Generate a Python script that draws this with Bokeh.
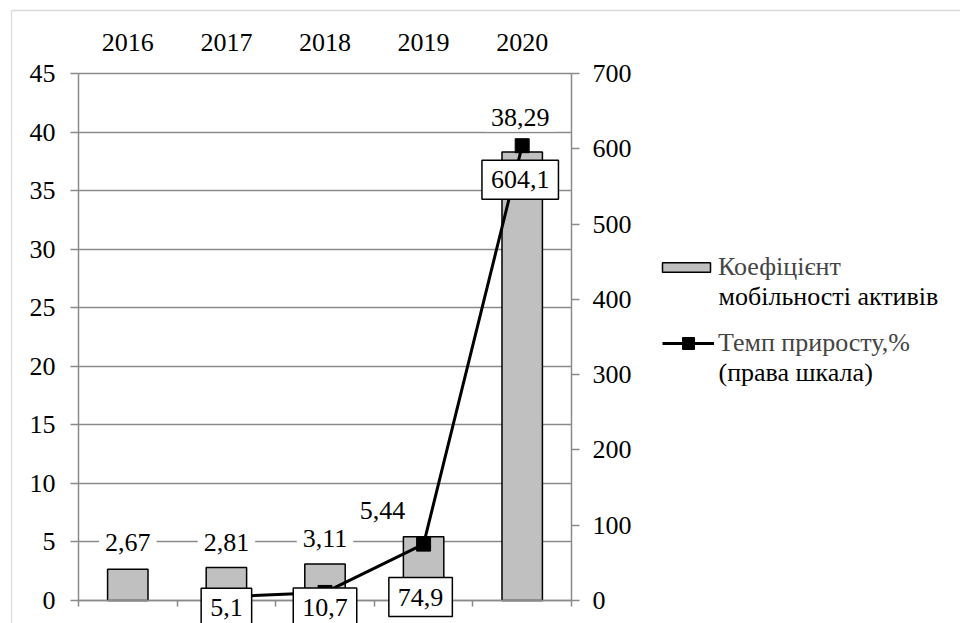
from bokeh.plotting import figure
from bokeh.models import (Range1d, LinearAxis, FixedTicker, Grid, Label, Legend,
                          LegendItem, BoxAnnotation, ColumnDataSource)
from bokeh.embed import file_html
from bokeh.resources import INLINE

# ---- data -------------------------------------------------------------
years = ["2016", "2017", "2018", "2019", "2020"]
mobility = [2.67, 2.81, 3.11, 5.44, 38.29]            # коефіцієнт мобільності активів
growth = [float("nan"), 5.1, 10.7, 74.9, 604.1]      # темп приросту, % (права шкала)

left_ticks = list(range(0, 50, 5))
right_ticks = list(range(0, 800, 100))

legend_bar = ["Коефіцієнт", "мобільності активів"]
legend_line = ["Темп приросту,%", "(права шкала)"]

# ---- label nudges (screen px: x to the right, y upwards) ---------------
mob_dx = [0, 0, 0, -41, -2]
mob_dy = [27, 25, 26, 26, 35]
gr_dx = [0, 0, 0, -3, -2]
gr_dy = [0, -11, -15, -53, -34]

# ---- page geometry (px) -----------------------------------------------
W, H = 960, 623
PLOT_L, PLOT_R, PLOT_T, PLOT_B = 78, 571, 73, 600

FONT = "Liberation Serif"
FS = "26px"
GRID = "#8a8a8a"


def fmt(v, nd):
    return f"{v:.{nd}f}".replace(".", ",")


n = len(years)
xc = [i + 0.5 for i in range(n)]
src = ColumnDataSource(dict(x=xc, year=years, mob=mobility, gr=growth))

# the frame spans the whole canvas; the value area sits inside it
kx = n / (PLOT_R - PLOT_L)
ky_l = left_ticks[-1] / (PLOT_B - PLOT_T)
ky_r = right_ticks[-1] / (PLOT_B - PLOT_T)
x_range = Range1d(-PLOT_L * kx, n + (W - PLOT_R) * kx)
y_range = Range1d(-(H - PLOT_B) * ky_l, left_ticks[-1] + PLOT_T * ky_l)
y_right = Range1d(-(H - PLOT_B) * ky_r, right_ticks[-1] + PLOT_T * ky_r)

p = figure(width=W, height=H, output_backend="svg", toolbar_location=None,
           x_range=x_range, y_range=y_range,
           x_axis_location=None, y_axis_location=None,
           min_border=0)
p.renderers = [r for r in p.renderers if not isinstance(r, Grid)]
p.center = [r for r in p.center if not isinstance(r, Grid)]
p.outline_line_color = None
p.background_fill_color = "white"
p.border_fill_color = "white"
p.extra_y_ranges = {"pct": y_right}


def style_axis(ax):
    ax.axis_line_color = GRID
    ax.axis_line_width = 1.5
    ax.major_tick_line_color = GRID
    ax.major_tick_line_width = 1.5
    ax.minor_tick_line_color = None
    ax.major_label_text_font = FONT
    ax.major_label_text_font_size = FS
    ax.major_label_text_color = "black"
    ax.major_tick_in = 0


left = LinearAxis(ticker=FixedTicker(ticks=left_ticks), fixed_location=0,
                  bounds=(0, left_ticks[-1]))
style_axis(left)
left.major_tick_out = 8
left.major_label_standoff = 15
p.add_layout(left, "left")

right = LinearAxis(y_range_name="pct", ticker=FixedTicker(ticks=right_ticks),
                   fixed_location=n, bounds=(0, right_ticks[-1]))
style_axis(right)
right.major_tick_out = 8
right.major_label_standoff = 13
p.add_layout(right, "right")

edges = list(range(n + 1))
bottom = LinearAxis(ticker=FixedTicker(ticks=edges), fixed_location=0,
                    bounds=(0, n),
                    major_label_overrides={e: "" for e in edges})
style_axis(bottom)
bottom.major_tick_out = 6
p.add_layout(bottom, "below")

top = LinearAxis(ticker=FixedTicker(ticks=xc), fixed_location=left_ticks[-1],
                 major_label_overrides={x: y for x, y in zip(xc, years)})
style_axis(top)
top.axis_line_color = None
top.major_tick_line_color = None
top.major_label_standoff = 17
p.add_layout(top, "above")

p.add_layout(Grid(dimension=1, ticker=FixedTicker(ticks=left_ticks),
                  bounds=(0, left_ticks[-1]), cross_bounds=(0, n),
                  grid_line_color=GRID, grid_line_width=1.5))

bars = p.vbar(x="x", top="mob", width=0.41, source=src, fill_color="#c0c0c0",
              line_color="black", line_width=1.5)
line = p.line(x="x", y="gr", source=src, y_range_name="pct",
              line_color="black", line_width=3)
marks = p.scatter(x="x", y="gr", source=src, y_range_name="pct", marker="square",
                  size=14, fill_color="black", line_color="black")

# value labels of the bars (white background breaks the gridlines)
for x, v, dx, dy in zip(xc, mobility, mob_dx, mob_dy):
    p.add_layout(Label(x=x, y=v, x_offset=dx, y_offset=dy, text=fmt(v, 2),
                       text_align="center", text_baseline="middle",
                       text_font=FONT, text_font_size=FS, text_color="black",
                       background_fill_color="white", padding=6))

# boxed value labels of the growth line
for x, v, dx, dy in zip(xc, growth, gr_dx, gr_dy):
    if v != v:
        continue
    p.add_layout(Label(x=x, y=v, y_range_name="pct", x_offset=dx, y_offset=dy,
                       text=fmt(v, 1), text_align="center", text_baseline="middle",
                       text_font=FONT, text_font_size=FS, text_color="black",
                       background_fill_color="white", border_line_color="black",
                       border_line_width=1.5,
                       padding=dict(top=11, bottom=11, left=9, right=9)))


# ---- legend: one entry per series, the wrapped second line as a label ----
def make_legend(item, loc, gw, gh, standoff):
    return Legend(items=[item], location=loc, glyph_width=gw, glyph_height=gh,
                  label_standoff=standoff, label_text_font=FONT,
                  label_text_font_size=FS, label_height=30,
                  border_line_color=None, background_fill_alpha=0,
                  padding=0, margin=0, spacing=0)


p.add_layout(make_legend(LegendItem(label=legend_bar[0], renderers=[bars]),
                         (656, 341), 60, 12, 2))
p.add_layout(make_legend(LegendItem(label=legend_line[0], renderers=[line, marks]),
                         (662, 265), 52, 30, 4))
for txt, sy in ((legend_bar[1], H - 296), (legend_line[1], H - 372)):
    p.add_layout(Label(x=718, y=sy, x_units="screen", y_units="screen", text=txt,
                       text_align="left", text_baseline="middle",
                       text_font=FONT, text_font_size=FS, text_color="black"))

# thin frame around the whole chart area
p.add_layout(BoxAnnotation(left=11, right=1200, top=10, bottom=1200,
                           left_units="canvas", right_units="canvas",
                           top_units="canvas", bottom_units="canvas",
                           fill_alpha=0, line_color="#888888", line_width=1.3))

open("out.html", "w").write(file_html(p, INLINE))
